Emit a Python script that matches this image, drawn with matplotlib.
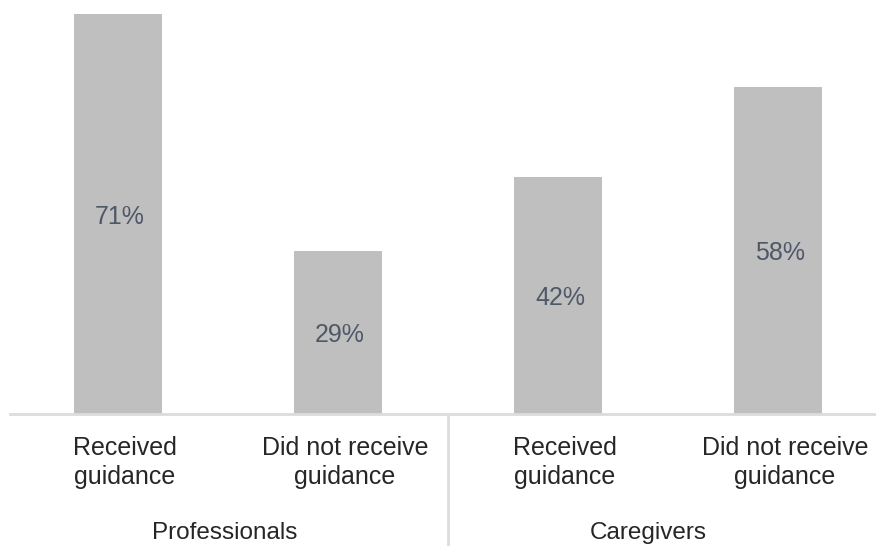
import matplotlib
matplotlib.use("Agg")
import matplotlib.pyplot as plt
import matplotlib.transforms as mtransforms
from matplotlib.lines import Line2D

# ---- data ----
categories = ["Received\nguidance", "Did not receive\nguidance",
              "Received\nguidance", "Did not receive\nguidance"]
values = [71, 29, 42, 58]
value_labels = ["71%", "29%", "42%", "58%"]
groups = ["Professionals", "Caregivers"]

# ---- style ----
plt.rcParams['font.family'] = ['Liberation Sans', 'DejaVu Sans']
W, H, DPI = 876, 546, 100
bar_color = "#BFBFBF"
value_color = "#4E5868"
text_color = "#262626"
line_color = "#DCDCDC"

fig = plt.figure(figsize=(W / DPI, H / DPI), dpi=DPI)
ax_left, ax_right, base_y = 10, 876, 414
ax = fig.add_axes([ax_left / W, (H - base_y) / H, (ax_right - ax_left) / W, base_y / H])

x = list(range(len(values)))
ax.bar(x, values, width=0.4, color=bar_color, zorder=2)
ax.set_xlim(-0.49, 3.445)
ax.set_ylim(0, 73.5)

for xi, v, lab in zip(x, values, value_labels):
    ax.text(xi + 0.01, v / 2, lab, ha="center", va="center_baseline",
            fontsize=18, color=value_color, zorder=3)

ax.set_xticks([])
ax.set_yticks([])
for s in ["top", "right", "left"]:
    ax.spines[s].set_visible(False)
ax.spines["bottom"].set_color(line_color)
ax.spines["bottom"].set_linewidth(2)

# category labels below axis
trans = mtransforms.blended_transform_factory(ax.transData, fig.transFigure)
cat_off = mtransforms.ScaledTranslation(7 / DPI, 0, fig.dpi_scale_trans)
for xi, c in zip(x, categories):
    ax.text(xi, (H - 436) / H, c, transform=trans + cat_off, ha="center", va="top",
            fontsize=18, color=text_color, linespacing=1.28, clip_on=False)

# group labels
group_x = [0.486, 2.41]
for gx, g in zip(group_x, groups):
    ax.text(gx, (H - 522) / H, g, transform=trans, ha="center", va="top",
            fontsize=17.5, color=text_color, clip_on=False)

# separator between groups
sep = Line2D([1.5, 1.5], [(H - base_y) / H, 0], transform=trans,
             color=line_color, linewidth=2, clip_on=False)
fig.add_artist(sep)

fig.savefig("out.png", dpi=DPI, facecolor="white")
